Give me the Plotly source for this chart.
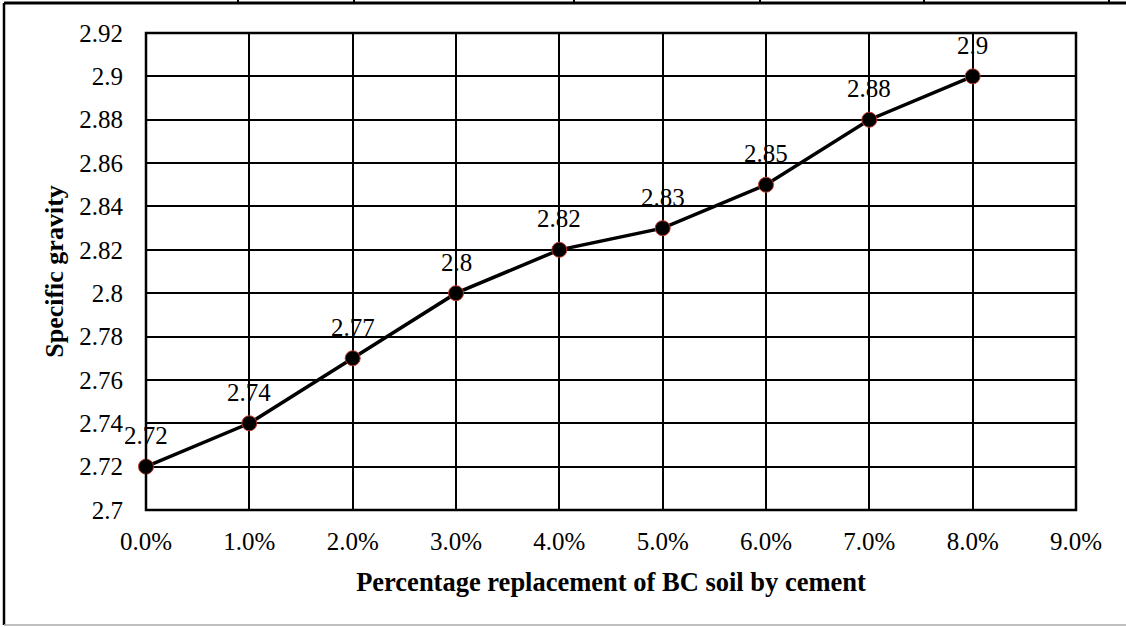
import plotly.graph_objects as go

# Data
replacement_pct = [0.00, 0.01, 0.02, 0.03, 0.04, 0.05, 0.06, 0.07, 0.08]
specific_gravity = [2.72, 2.74, 2.77, 2.80, 2.82, 2.83, 2.85, 2.88, 2.90]
point_labels = ["2.72", "2.74", "2.77", "2.8", "2.82", "2.83", "2.85", "2.88", "2.9"]

x_tick_vals = [0.00, 0.01, 0.02, 0.03, 0.04, 0.05, 0.06, 0.07, 0.08, 0.09]
x_tick_text = ["0.0%", "1.0%", "2.0%", "3.0%", "4.0%", "5.0%", "6.0%", "7.0%", "8.0%", "9.0%"]
y_tick_vals = [2.70, 2.72, 2.74, 2.76, 2.78, 2.80, 2.82, 2.84, 2.86, 2.88, 2.90, 2.92]
y_tick_text = ["2.7", "2.72", "2.74", "2.76", "2.78", "2.8", "2.82", "2.84", "2.86", "2.88", "2.9", "2.92"]

FONT = "Liberation Serif, Times New Roman, serif"
W, H = 1126, 627
L, R, T, B = 146, 50, 33, 117
pw, ph = W - L - R, H - T - B

def px(x):
    return (x - L) / pw

def py(y):
    return (H - B - y) / ph

fig = go.Figure()
fig.add_trace(go.Scatter(
    x=replacement_pct, y=specific_gravity,
    mode="lines+markers",
    line=dict(color="black", width=3.5),
    marker=dict(size=15, color="black", line=dict(color="#c0392b", width=1)),
    cliponaxis=False, showlegend=False, hoverinfo="x+y",
))

annotations = [
    dict(x=xv, y=yv, text=lab, showarrow=False, xref="x", yref="y",
         xanchor="center", yanchor="middle", yshift=31,
         font=dict(family=FONT, size=25, color="black"))
    for xv, yv, lab in zip(replacement_pct, specific_gravity, point_labels)
]

shapes = [
    # outer page border lines
    dict(type="line", xref="paper", yref="paper", x0=px(4), x1=px(1126), y0=py(3), y1=py(3),
         line=dict(color="black", width=3)),
    dict(type="line", xref="paper", yref="paper", x0=px(4), x1=px(4), y0=py(3), y1=py(625),
         line=dict(color="black", width=2.5)),
    dict(type="line", xref="paper", yref="paper", x0=px(4), x1=px(1126), y0=py(625), y1=py(625),
         line=dict(color="#aaaaaa", width=1.5)),
    # plot area frame
    dict(type="rect", xref="paper", yref="paper", x0=0, x1=1, y0=0, y1=1,
         line=dict(color="black", width=2.5), layer="above"),
]
for xv in [238, 354, 574, 760, 924, 1109]:
    shapes.append(dict(type="line", xref="paper", yref="paper", x0=px(xv), x1=px(xv),
                       y0=py(0), y1=py(3), line=dict(color="black", width=2)))

fig.update_layout(
    width=W, height=H,
    margin=dict(l=L, r=R, t=T, b=B, autoexpand=False),
    paper_bgcolor="white", plot_bgcolor="white",
    font=dict(family=FONT, size=25, color="black"),
    shapes=shapes,
    annotations=annotations,
    xaxis=dict(
        range=[0, 0.09], tickvals=x_tick_vals, ticktext=x_tick_text,
        showgrid=True, gridcolor="black", gridwidth=1.5,
        zeroline=False, showline=False, ticks="", ticklen=0,
        ticklabelstandoff=14,
        tickfont=dict(family=FONT, size=25, color="black"),
        title=dict(text="<b>Percentage replacement of BC soil by cement</b>",
                   font=dict(family=FONT, size=26.5, color="black"), standoff=18),
    ),
    yaxis=dict(
        range=[2.70, 2.92], tickvals=y_tick_vals, ticktext=y_tick_text,
        showgrid=True, gridcolor="black", gridwidth=1.5,
        zeroline=False, showline=False, ticks="", ticklen=0,
        ticklabelstandoff=22,
        tickfont=dict(family=FONT, size=25, color="black"),
        title=dict(text="<b>Specific gravity</b>",
                   font=dict(family=FONT, size=26, color="black"), standoff=8),
    ),
)

fig.write_html("out.html", config={"displayModeBar": False},
               post_script="document.body.style.margin='0px';document.body.style.padding='0px';")
